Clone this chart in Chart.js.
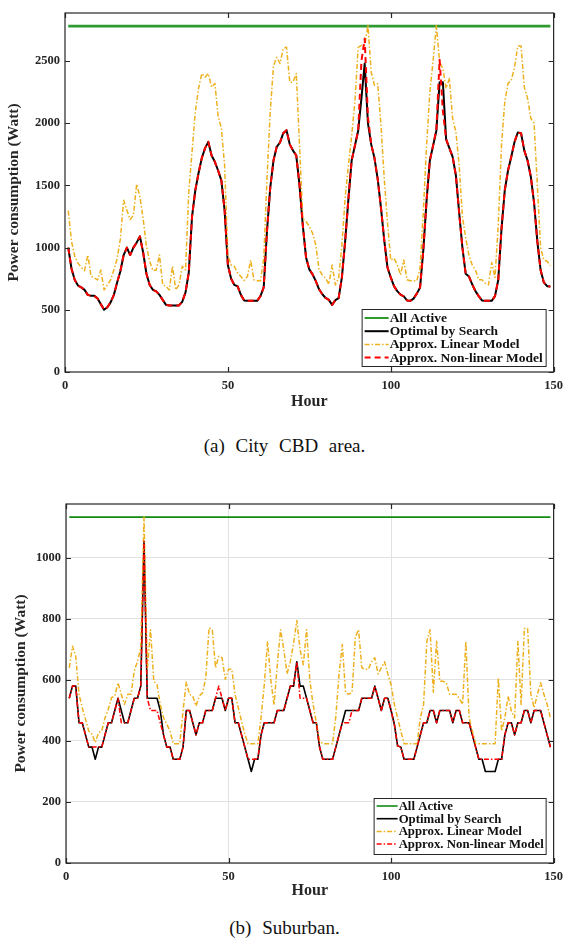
<!DOCTYPE html>
<html>
<head>
<meta charset="utf-8">
<script src="https://cdn.jsdelivr.net/npm/chart.js@4.4.1/dist/chart.umd.min.js"></script>
<style>
  body { margin: 0; background: #fff; }
  #page { position: relative; width: 569px; height: 947px; overflow: hidden; }
  .plot { position: absolute; left: 0; }
  .caption { position: absolute; left: 0; width: 569px; text-align: center; line-height: 22px;
             font-family: "Liberation Serif", "Times New Roman", serif; font-size: 19px;
             word-spacing: 6px; color: #111; }
</style>
</head>
<body>
<div id="page">
  <canvas id="cbd-chart" class="plot" width="569" height="420" style="top:0"></canvas>
  <div class="caption" style="top:435px">(a) City CBD area.</div>
  <canvas id="sub-chart" class="plot" width="569" height="420" style="top:490px"></canvas>
  <div class="caption" style="top:917px">(b) Suburban.</div>
</div>
<script>
// hours on the x axis
const hours = Array.from({ length: 149 }, (_, i) => i + 1);

const seriesNames = ['All Active', 'Optimal by Search', 'Approx. Linear Model', 'Approx. Non-linear Model'];

// (a) City CBD area
const cbdAllActive = 2780;
const cbdOptimal = [
  1000, 830, 740, 695, 680, 660, 620, 612, 612, 590,
  545, 500, 520, 560, 620, 720, 810, 940, 1000, 940,
  1000, 1040, 1090, 960, 790, 700, 660, 648, 620, 580,
  540, 535, 535, 535, 535, 565, 640, 800, 1250, 1460,
  1600, 1720, 1800, 1850, 1740, 1690, 1620, 1540, 1300, 860,
  750, 700, 688, 620, 575, 572, 572, 572, 572, 610,
  680, 1130, 1480, 1700, 1810, 1845, 1920, 1944, 1830, 1780,
  1740, 1500, 1180, 920, 825, 785, 730, 665, 625, 595,
  580, 540, 578, 594, 760, 1050, 1390, 1700, 1820, 1940,
  2200, 2479, 2000, 1830, 1720, 1550, 1320, 1060, 840, 760,
  690, 650, 622, 608, 575, 572, 590, 630, 680, 980,
  1380, 1700, 1820, 1940, 2330, 2330, 1870, 1800, 1730, 1580,
  1280, 1000, 790, 768, 705, 650, 610, 575, 572, 572,
  572, 610, 740, 1150, 1460, 1620, 1730, 1850, 1925, 1920,
  1780, 1700, 1570, 1360, 1050, 820, 720, 690, 688
];
const cbdLinear = [
  1297, 1050, 930, 875, 840, 815, 940, 770, 755, 740,
  820, 660, 700, 740, 820, 910, 1070, 1380, 1300, 1225,
  1260, 1510, 1410, 1230, 1010, 890, 815, 820, 940, 700,
  690, 660, 850, 660, 700, 850, 820, 1450, 1770, 2090,
  2280, 2400, 2370, 2400, 2290, 2320, 2060, 1960, 1660, 940,
  860, 848, 795, 767, 735, 767, 900, 740, 733, 733,
  910, 1550, 2090, 2460, 2530, 2480, 2600, 2612, 2330, 2330,
  2400, 1820, 1235, 1210, 1170, 1115, 1020, 820, 780, 755,
  706, 860, 700, 754, 1020, 1400, 1660, 1900, 2170, 2610,
  2626, 2626, 2786, 2410, 2305, 2318, 1984, 1556, 1200, 900,
  914, 861, 781, 900, 741, 733, 733, 733, 834, 1289,
  1824, 2250, 2500, 2786, 2492, 2440, 2280, 2360, 2037, 1931,
  1663, 1250, 1080, 940, 861, 821, 741, 741, 714, 700,
  880, 760, 1182, 1824, 2170, 2320, 2345, 2450, 2620, 2620,
  2290, 2200, 2040, 2000, 1500, 1000, 900, 890, 855
];
const cbdNonlinear = [
  1000, 830, 740, 695, 680, 660, 620, 612, 612, 590,
  545, 500, 520, 560, 620, 720, 810, 940, 1000, 940,
  1000, 1040, 1090, 960, 790, 700, 660, 648, 620, 580,
  540, 535, 535, 535, 535, 565, 640, 800, 1250, 1460,
  1600, 1720, 1800, 1850, 1740, 1690, 1620, 1540, 1300, 860,
  750, 700, 688, 620, 575, 572, 572, 572, 572, 610,
  680, 1130, 1480, 1700, 1810, 1845, 1920, 1944, 1830, 1780,
  1740, 1500, 1180, 920, 825, 785, 730, 665, 625, 595,
  580, 540, 578, 594, 760, 1050, 1390, 1700, 1820, 1940,
  2500, 2680, 2050, 1830, 1720, 1550, 1320, 1060, 840, 760,
  690, 650, 622, 608, 575, 572, 590, 630, 680, 980,
  1380, 1700, 1820, 1950, 2510, 2100, 1870, 1800, 1730, 1580,
  1280, 1000, 790, 768, 705, 650, 610, 575, 572, 572,
  572, 610, 740, 1150, 1460, 1620, 1730, 1850, 1925, 1920,
  1780, 1700, 1570, 1360, 1050, 820, 720, 690, 688
];
const cbdYTicks = [0, 500, 1000, 1500, 2000, 2500];

// (b) Suburban
const subAllActive = 1134;
const subOptimal = [
  540, 580, 580, 460, 460, 420, 380, 380, 340, 380,
  380, 420, 460, 460, 500, 540, 500, 460, 460, 500,
  540, 540, 580, 1055, 540, 540, 540, 540, 500, 420,
  380, 380, 340, 340, 340, 380, 500, 500, 460, 420,
  460, 460, 500, 500, 500, 540, 540, 540, 500, 540,
  540, 460, 460, 420, 380, 340, 300, 340, 340, 420,
  460, 460, 460, 460, 500, 500, 500, 540, 580, 580,
  660, 580, 580, 540, 500, 460, 460, 380, 340, 340,
  340, 340, 380, 420, 460, 500, 500, 500, 500, 500,
  540, 540, 540, 540, 580, 540, 500, 540, 540, 500,
  455, 384, 380, 340, 340, 340, 340, 380, 420, 460,
  460, 500, 500, 460, 500, 500, 500, 500, 460, 500,
  500, 460, 460, 460, 420, 380, 340, 340, 300, 300,
  300, 300, 340, 340, 420, 460, 460, 420, 460, 460,
  500, 500, 460, 500, 500, 500, 460, 420, 380
];
const subLinear = [
  640, 711, 678, 553, 509, 471, 433, 422, 395, 427,
  433, 476, 504, 542, 547, 591, 553, 520, 553, 553,
  629, 662, 705, 1134, 635, 765, 596, 585, 520, 476,
  455, 433, 391, 391, 391, 498, 593, 553, 547, 515,
  547, 558, 607, 771, 765, 640, 678, 673, 602, 635,
  635, 553, 509, 465, 422, 391, 391, 391, 391, 476,
  585, 725, 600, 518, 650, 765, 700, 620, 660, 720,
  795, 700, 650, 765, 600, 520, 460, 400, 391, 391,
  391, 391, 480, 620, 716, 558, 553, 560, 740, 765,
  640, 635, 635, 660, 673, 620, 640, 660, 620, 585,
  520, 476, 433, 391, 391, 391, 391, 391, 476, 520,
  727, 765, 560, 727, 596, 596, 591, 553, 553, 553,
  540, 520, 727, 476, 433, 391, 391, 391, 391, 391,
  391, 391, 607, 433, 476, 547, 498, 476, 727, 520,
  769, 769, 553, 509, 553, 591, 553, 520, 476
];
const subNonlinear = [
  540, 580, 580, 460, 460, 420, 380, 380, 380, 380,
  380, 420, 460, 460, 500, 540, 460, 460, 460, 500,
  540, 540, 580, 1055, 540, 500, 500, 500, 460, 420,
  380, 380, 340, 340, 340, 380, 500, 500, 460, 420,
  460, 460, 500, 500, 500, 540, 580, 540, 500, 540,
  540, 460, 460, 420, 380, 340, 340, 340, 340, 420,
  460, 460, 460, 460, 500, 500, 500, 540, 580, 580,
  660, 540, 540, 540, 500, 460, 460, 380, 340, 340,
  340, 340, 380, 420, 460, 460, 460, 500, 500, 500,
  540, 540, 540, 540, 580, 540, 500, 540, 540, 500,
  455, 384, 380, 340, 340, 340, 340, 380, 420, 460,
  460, 500, 500, 460, 500, 500, 500, 500, 460, 500,
  500, 460, 460, 460, 420, 380, 340, 340, 340, 340,
  340, 340, 340, 340, 420, 460, 460, 420, 460, 460,
  500, 500, 460, 500, 500, 500, 460, 420, 380
];
const subYTicks = [0, 200, 400, 600, 800, 1000];

const xTicks = [0, 50, 100, 150];

const serif = '"Liberation Serif", "Times New Roman", serif';
const axisColor = '#262626';

function points(values) {
  return values.map((v, i) => ({ x: hours[i], y: v }));
}

function flatLine(value) {
  return [{ x: hours[0], y: value }, { x: hours[hours.length - 1], y: value }];
}

// box around the axes with inward tick marks, plus a boxed legend in the lower right
const framePlugin = {
  id: 'frame',
  afterDatasetsDraw(chart) {
    const { ctx, chartArea: a, scales: { x, y } } = chart;
    ctx.save();
    ctx.strokeStyle = axisColor;
    ctx.lineWidth = 1.2;
    ctx.strokeRect(a.left, a.top, a.right - a.left, a.bottom - a.top);
    ctx.beginPath();
    x.ticks.forEach(t => {
      const px = Math.round(x.getPixelForValue(t.value)) + 0.5;
      ctx.moveTo(px, a.bottom); ctx.lineTo(px, a.bottom - 5);
      ctx.moveTo(px, a.top); ctx.lineTo(px, a.top + 5);
    });
    y.ticks.forEach(t => {
      const py = Math.round(y.getPixelForValue(t.value)) + 0.5;
      ctx.moveTo(a.left, py); ctx.lineTo(a.left + 5, py);
      ctx.moveTo(a.right, py); ctx.lineTo(a.right - 5, py);
    });
    ctx.stroke();
    ctx.restore();
  },
  afterDraw(chart, args, opts) {
    const { ctx, chartArea: a } = chart;
    const sets = chart.data.datasets;
    const right = a.right - 8, bottom = a.bottom - opts.bottomGap;
    const left = right - opts.width, top = bottom - opts.height;
    ctx.save();
    ctx.fillStyle = '#fff';
    ctx.fillRect(left, top, opts.width, opts.height);
    ctx.strokeStyle = axisColor;
    ctx.lineWidth = 1;
    ctx.strokeRect(left + 0.5, top + 0.5, opts.width, opts.height);
    ctx.font = 'bold ' + opts.fontSize + 'px ' + serif;
    ctx.textBaseline = 'middle';
    ctx.fillStyle = '#111';
    sets.forEach((ds, i) => {
      const cy = top + opts.firstRow + i * opts.rowGap;
      ctx.beginPath();
      ctx.setLineDash(ds.borderDash || []);
      ctx.strokeStyle = ds.borderColor;
      ctx.lineWidth = Math.min(ds.borderWidth, 2);
      ctx.moveTo(left + 3, cy);
      ctx.lineTo(left + 3 + opts.lineLen, cy);
      ctx.stroke();
      ctx.setLineDash([]);
      ctx.fillText(ds.label, left + 4 + opts.lineLen, cy + 0.5);
    });
    ctx.restore();
  }
};

function buildChart(canvasId, cfg) {
  const ctx = document.getElementById(canvasId);
  return new Chart(ctx, {
    type: 'line',
    data: {
      datasets: [
        {
          label: seriesNames[0],
          data: flatLine(cfg.allActive),
          borderColor: cfg.green,
          borderWidth: cfg.greenWidth,
          order: 3
        },
        {
          label: seriesNames[1],
          data: points(cfg.optimal),
          borderColor: '#000000',
          borderWidth: cfg.blackWidth,
          order: 2
        },
        {
          label: seriesNames[2],
          data: points(cfg.linear),
          borderColor: '#EDB120',
          borderWidth: 1.5,
          borderDash: [5, 2, 1.5, 2],
          order: 1
        },
        {
          label: seriesNames[3],
          data: points(cfg.nonlinear),
          borderColor: '#FF0000',
          borderWidth: cfg.redWidth,
          borderDash: cfg.redDash,
          order: 0
        }
      ]
    },
    options: {
      responsive: false,
      animation: false,
      devicePixelRatio: 1,
      layout: { padding: { top: cfg.padTop, right: 12, left: 0, bottom: 0 } },
      elements: {
        point: { radius: 0 },
        line: { tension: 0, borderJoinStyle: 'round' }
      },
      plugins: {
        legend: { display: false },
        tooltip: { enabled: false },
        frame: cfg.legendBox
      },
      scales: {
        x: {
          type: 'linear',
          min: 0,
          max: 150,
          afterBuildTicks: s => { s.ticks = xTicks.map(v => ({ value: v })); },
          afterFit: s => { s.height = cfg.xHeight; },
          border: { display: false },
          grid: { display: cfg.grid, color: '#e2e2e2', drawTicks: false },
          ticks: {
            padding: 6,
            color: axisColor,
            font: { family: serif, size: 12.5, weight: 'bold' },
            callback: v => String(v)
          },
          title: {
            display: true,
            text: 'Hour',
            color: axisColor,
            font: { family: serif, size: 16, weight: 'bold' },
            padding: { top: 0, bottom: cfg.hourPad }
          }
        },
        y: {
          min: 0,
          max: cfg.yMax,
          afterBuildTicks: s => { s.ticks = cfg.yTicks.map(v => ({ value: v })); },
          afterFit: s => { s.width = cfg.yWidth; },
          border: { display: false },
          grid: { display: cfg.grid, color: '#e2e2e2', drawTicks: false },
          ticks: {
            padding: 5,
            color: axisColor,
            font: { family: serif, size: 12.5, weight: 'bold' },
            callback: v => String(v)
          },
          title: {
            display: true,
            text: 'Power consumption (Watt)',
            color: axisColor,
            font: { family: serif, size: 15.5, weight: 'bold' },
            padding: { top: cfg.yTitlePad, bottom: 0 }
          }
        }
      }
    },
    plugins: [framePlugin]
  });
}

buildChart('cbd-chart', {
  allActive: cbdAllActive,
  optimal: cbdOptimal,
  linear: cbdLinear,
  nonlinear: cbdNonlinear,
  yTicks: cbdYTicks,
  yMax: 2886,
  green: '#2f9a2f',
  greenWidth: 2.8,
  blackWidth: 2,
  redWidth: 2,
  redDash: [6, 4],
  grid: false,
  padTop: 13,
  xHeight: 48,
  yWidth: 65,
  hourPad: 9,
  yTitlePad: 5,
  legendBox: { width: 184, height: 57, bottomGap: 6, firstRow: 9, rowGap: 13.2, lineLen: 24, fontSize: 13.5 }
});

buildChart('sub-chart', {
  allActive: subAllActive,
  optimal: subOptimal,
  linear: subLinear,
  nonlinear: subNonlinear,
  yTicks: subYTicks,
  yMax: 1177,
  green: '#128a12',
  greenWidth: 1.6,
  blackWidth: 1.6,
  redWidth: 1.5,
  redDash: [5, 2, 1.5, 2],
  grid: true,
  padTop: 14,
  xHeight: 47,
  yWidth: 66,
  hourPad: 10,
  yTitlePad: 12,
  legendBox: { width: 172, height: 56, bottomGap: 9, firstRow: 8, rowGap: 12.7, lineLen: 21, fontSize: 12.8 }
});
</script>
</body>
</html>
